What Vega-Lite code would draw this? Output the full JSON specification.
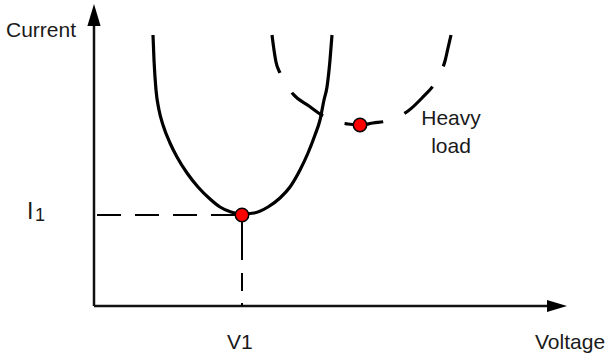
{
  "$schema": "https://vega.github.io/schema/vega-lite/v6.json",
  "width": 607,
  "height": 358,
  "padding": 0,
  "autosize": {"type": "fit", "contains": "padding"},
  "background": "white",
  "config": {"view": {"stroke": null}},
  "datasets": {
    "solid": [
      {"v": 153, "c": 323}, {"v": 154, "c": 298}, {"v": 156, "c": 268}, {"v": 159, "c": 248},
      {"v": 163, "c": 233}, {"v": 170, "c": 215}, {"v": 177, "c": 201}, {"v": 187, "c": 185},
      {"v": 198, "c": 171}, {"v": 210, "c": 159}, {"v": 220, "c": 151}, {"v": 231, "c": 146},
      {"v": 242, "c": 144}, {"v": 254, "c": 145}, {"v": 268, "c": 151}, {"v": 280, "c": 160},
      {"v": 290, "c": 171}, {"v": 300, "c": 188}, {"v": 308, "c": 205}, {"v": 315, "c": 223},
      {"v": 320, "c": 238}, {"v": 324, "c": 258}, {"v": 327, "c": 271}, {"v": 330, "c": 298},
      {"v": 332, "c": 323}
    ],
    "heavy": [
      {"v": 272, "c": 323}, {"v": 274, "c": 308}, {"v": 276, "c": 296}, {"v": 280, "c": 285},
      {"v": 286, "c": 274}, {"v": 293, "c": 264}, {"v": 309, "c": 252}, {"v": 325, "c": 241},
      {"v": 337, "c": 236}, {"v": 348, "c": 234}, {"v": 360, "c": 233}, {"v": 373, "c": 235},
      {"v": 387, "c": 237}, {"v": 398, "c": 241}, {"v": 408, "c": 247}, {"v": 422, "c": 260},
      {"v": 435, "c": 275}, {"v": 441, "c": 286}, {"v": 445, "c": 297}, {"v": 448, "c": 310},
      {"v": 451, "c": 323}
    ],
    "minima": [{"v": 242, "c": 143}, {"v": 360, "c": 233}],
    "axes": [
      {"v": 94, "c": 52, "v2": 94, "c2": 338},
      {"v": 94, "c": 52, "v2": 550, "c2": 52}
    ],
    "vguide": [
      {"v": 242, "c": 143, "c2": 98},
      {"v": 242, "c": 85, "c2": 67},
      {"v": 242, "c": 55, "c2": 52}
    ]
  },
  "encoding": {
    "x": {"field": "v", "type": "quantitative", "scale": {"domain": [0, 607], "nice": false, "zero": false}, "axis": null},
    "y": {"field": "c", "type": "quantitative", "scale": {"domain": [0, 358], "nice": false, "zero": false}, "axis": null}
  },
  "layer": [
    {
      "data": {"name": "axes"},
      "mark": {"type": "rule", "stroke": "#111", "strokeWidth": 2.5},
      "encoding": {"x2": {"field": "v2"}, "y2": {"field": "c2"}}
    },
    {
      "data": {"values": [{"v": 94, "c": 343}]},
      "mark": {"type": "point", "shape": "M0,-1L0.6,1L-0.6,1Z", "size": 484, "filled": true, "fill": "black", "opacity": 1, "strokeWidth": 0}
    },
    {
      "data": {"values": [{"v": 557, "c": 52}]},
      "mark": {"type": "point", "shape": "M1,0L-1,-0.6L-1,0.6Z", "size": 400, "filled": true, "fill": "black", "opacity": 1, "strokeWidth": 0}
    },
    {
      "data": {"values": [{"v": 97, "v2": 242, "c": 143}]},
      "mark": {"type": "rule", "stroke": "black", "strokeWidth": 2, "strokeDash": [24, 14]},
      "encoding": {"x2": {"field": "v2"}}
    },
    {
      "data": {"name": "vguide"},
      "mark": {"type": "rule", "stroke": "black", "strokeWidth": 2},
      "encoding": {"y2": {"field": "c2"}}
    },
    {
      "data": {"name": "solid"},
      "mark": {"type": "line", "stroke": "black", "strokeWidth": 3.2, "interpolate": "monotone"}
    },
    {
      "data": {"name": "heavy"},
      "mark": {"type": "line", "stroke": "black", "strokeWidth": 3.2, "interpolate": "monotone", "strokeDash": [39, 23]}
    },
    {
      "data": {"name": "minima"},
      "mark": {"type": "point", "shape": "circle", "size": 180, "filled": true, "fill": "#ff0000", "stroke": "black", "strokeWidth": 1.5, "opacity": 1}
    },
    {
      "data": {"values": [
        {"v": 6, "c": 321, "t": "Current"},
        {"v": 535, "c": 9, "t": "Voltage"},
        {"v": 227, "c": 9, "t": "V1"}
      ]},
      "mark": {"type": "text", "font": "Liberation Sans", "fontSize": 21, "align": "left", "baseline": "alphabetic", "color": "#1a1a1a"},
      "encoding": {"text": {"field": "t"}}
    },
    {
      "data": {"values": [
        {"v": 451, "c": 233, "t": "Heavy"},
        {"v": 451, "c": 205, "t": "load"}
      ]},
      "mark": {"type": "text", "font": "Liberation Sans", "fontSize": 21, "align": "center", "baseline": "alphabetic", "color": "#1a1a1a"},
      "encoding": {"text": {"field": "t"}}
    },
    {
      "data": {"values": [{"v": 27, "c": 139, "t": "I"}]},
      "mark": {"type": "text", "font": "Liberation Sans", "fontSize": 23, "align": "left", "baseline": "alphabetic", "color": "#1a1a1a"},
      "encoding": {"text": {"field": "t"}}
    },
    {
      "data": {"values": [{"v": 35, "c": 137, "t": "1"}]},
      "mark": {"type": "text", "font": "Liberation Sans", "fontSize": 18, "align": "left", "baseline": "alphabetic", "color": "#1a1a1a"},
      "encoding": {"text": {"field": "t"}}
    }
  ]
}
